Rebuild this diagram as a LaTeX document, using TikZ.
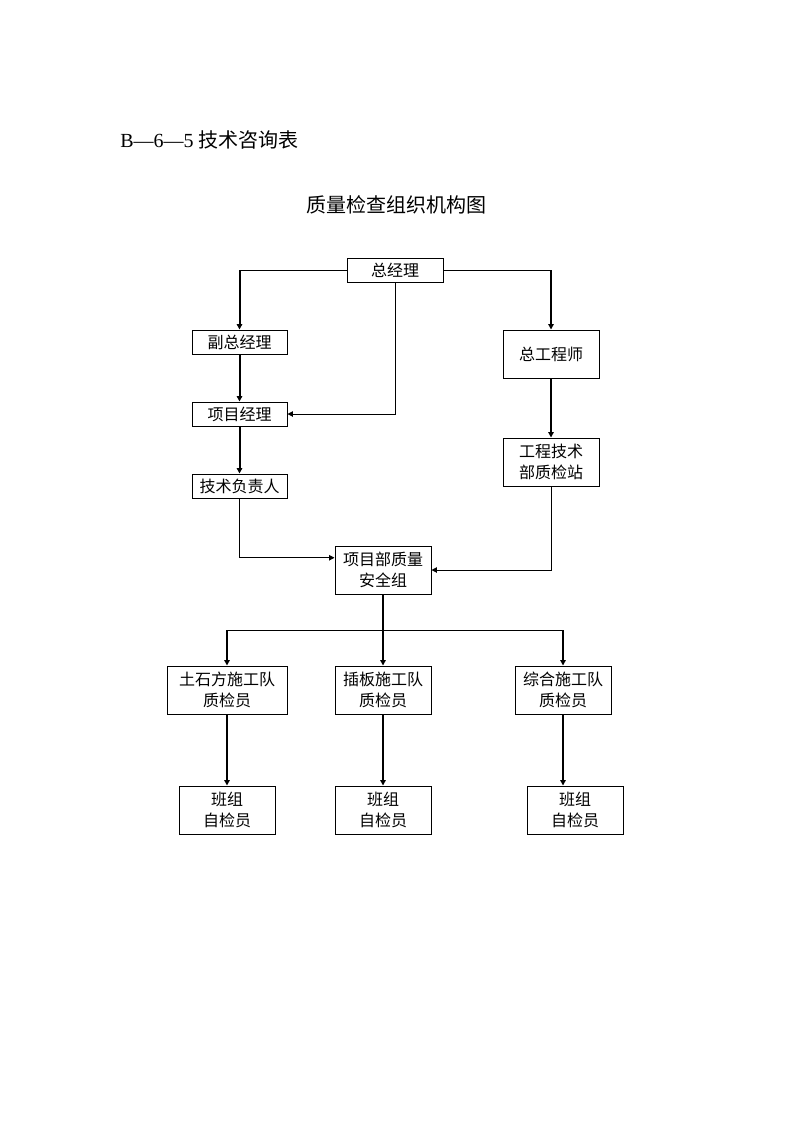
\documentclass[tikz,border=0pt]{standalone}
\usepackage{fontspec}
\setmainfont{Liberation Serif}
\newfontfamily\cjk{Noto Sans CJK SC}
\usetikzlibrary{arrows.meta,calc}
\begin{document}
\begin{tikzpicture}[x=0.75pt,y=-0.75pt,
  box/.style={draw,line width=0.75pt,rectangle,inner sep=0pt,align=center,
    font={\cjk\fontsize{12}{15.75}\selectfont}},
  thin/.style={line width=0.75pt},
  thickarrow/.style={line width=1.5pt,-{Triangle[length=4pt,width=4pt]}},
  thinarrow/.style={line width=0.75pt,-{Triangle[length=4pt,width=4pt]}}]
\useasboundingbox (0,0) rectangle (794,1123);
\node[anchor=west,inner sep=0pt,font={\fontsize{15}{18}\selectfont}] (title) at (120,140) {B—6—5 {\cjk 技术咨询表}};
\node[font={\cjk\fontsize{15}{18}\selectfont}] (heading) at (396,205) {质量检查组织机构图};

\node[box,minimum width=72pt,minimum height=18pt] (zjl) at (395,270) {总经理};
\node[box,minimum width=71.25pt,minimum height=18pt] (fzjl) at (239.5,342) {副总经理};
\node[box,minimum width=71.25pt,minimum height=18pt] (xmjl) at (239.5,414) {项目经理};
\node[box,minimum width=71.25pt,minimum height=18pt] (jsfzr) at (239.5,486) {技术负责人};
\node[box,minimum width=72pt,minimum height=36pt] (zgcs) at (551,354) {总工程师};
\node[box,minimum width=72pt,minimum height=36pt] (gcjs) at (551,462) {工程技术\\部质检站};
\node[box,minimum width=72pt,minimum height=36pt] (xmb) at (383,570) {项目部质量\\安全组};
\node[box,minimum width=90pt,minimum height=36pt] (tsf) at (227,690) {土石方施工队\\质检员};
\node[box,minimum width=72pt,minimum height=36pt] (cb) at (383,690) {插板施工队\\质检员};
\node[box,minimum width=72pt,minimum height=36pt] (zh) at (563,690) {综合施工队\\质检员};
\node[box,minimum width=72pt,minimum height=36pt] (bz1) at (227,810) {班组\\自检员};
\node[box,minimum width=72pt,minimum height=36pt] (bz2) at (383,810) {班组\\自检员};
\node[box,minimum width=72pt,minimum height=36pt] (bz3) at (575,810) {班组\\自检员};

% top branches
\draw[thin] (zjl.west) -- (zjl.west -| fzjl.north);
\draw[thickarrow] (zjl.west -| fzjl.north) -- (fzjl.north);
\draw[thin] (zjl.east) -- (zjl.east -| zgcs.north);
\draw[thickarrow] (zjl.east -| zgcs.north) -- (zgcs.north);
\draw[thinarrow] (zjl.south) |- (xmjl.east);
\draw[thickarrow] (fzjl.south) -- (xmjl.north);
\draw[thickarrow] (xmjl.south) -- (jsfzr.north);
\draw[thickarrow] (zgcs.south) -- (gcjs.north);

% into group
\coordinate (inL) at ($(xmb.north west)!0.25!(xmb.south west)$);
\draw[thinarrow] (jsfzr.south) |- (inL);
\draw[thinarrow] (gcjs.south) |- (xmb.east);

% lower tree
\coordinate (bus) at (383,630);
\draw[thin] (bus -| tsf.north) -- (bus -| zh.north);
\draw[thickarrow] (xmb.south) -- (cb.north);
\draw[thickarrow] (bus -| tsf.north) -- (tsf.north);
\draw[thickarrow] (bus -| zh.north) -- (zh.north);

\draw[thickarrow] (tsf.south) -- (bz1.north);
\draw[thickarrow] (cb.south) -- (bz2.north);
\draw[thickarrow] (zh.south) -- (zh.south |- bz3.north);
\end{tikzpicture}
\end{document}
